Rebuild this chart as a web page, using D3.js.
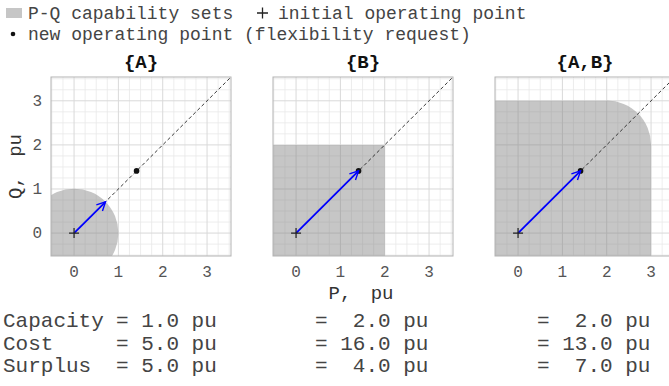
<!DOCTYPE html>
<html>
<head>
<meta charset="utf-8">
<script src="https://cdn.jsdelivr.net/npm/d3@7"></script>
<style>
  body { margin: 0; background: #fff; }
  text { font-family: "Liberation Mono", "DejaVu Sans Mono", monospace; white-space: pre; }
</style>
</head>
<body>
<div id="chart"></div>
<script>
// panel titles and numbers printed under each panel
var panels   = ["{A}", "{B}", "{A,B}"];
var capacity = [1.0, 2.0, 2.0];
var cost     = [5.0, 16.0, 13.0];
var surplus  = [5.0, 4.0, 7.0];

// capability set = square of half-side s (Minkowski) plus disc of radius r
var squareHalf = [0, 2, 2];
var discRadius = [1, 0, 1];

// operating points
var initialPoint = [0, 0];
var newPoint     = [1.41, 1.41];
var arrowEnd     = [0.71, 1.41, 1.41];   // how far each set can follow the request

var ticks = [0, 1, 2, 3];
var rowLabels = ["Capacity", "Cost", "Surplus"];

var W = 669, H = 386;
var panelW = 180, panelH = 179, panelTop = 77;
var panelLeft = [51, 273, 495];

var svg = d3.select("#chart").append("svg")
  .attr("width", W).attr("height", H);

var x = d3.scaleLinear().domain([-0.52, 3.54]).range([0, panelW]);
var y = d3.scaleLinear().domain([-0.52, 3.54]).range([panelH, 0]);

var defs = svg.append("defs");
defs.append("clipPath").attr("id", "clip")
  .append("rect").attr("width", panelW).attr("height", panelH);
defs.append("marker")
  .attr("id", "arrowhead")
  .attr("viewBox", "0 0 10 10")
  .attr("refX", 9).attr("refY", 5)
  .attr("markerWidth", 6).attr("markerHeight", 6)
  .attr("markerUnits", "strokeWidth")
  .attr("orient", "auto")
  .append("path")
    .attr("d", "M1,1 L9,5 L1,9")
    .attr("fill", "none")
    .attr("stroke", "#0000ff")
    .attr("stroke-width", 1.3);

// rounded rectangle [-(s+r), s+r]^2 with corner radius r
function capabilityPath(s, r) {
  var p = d3.path();
  var e = s + r;
  if (s === 0) {
    p.arc(x(0), y(0), x(r) - x(0), 0, 2 * Math.PI);
    return p.toString();
  }
  var k = x(r) - x(0);
  p.moveTo(x(-e), y(s));
  p.arc(x(-s), y(s), k, Math.PI, 1.5 * Math.PI);
  p.lineTo(x(s), y(e));
  p.arc(x(s), y(s), k, 1.5 * Math.PI, 2 * Math.PI);
  p.lineTo(x(e), y(-s));
  p.arc(x(s), y(-s), k, 0, 0.5 * Math.PI);
  p.lineTo(x(-s), y(-e));
  p.arc(x(-s), y(-s), k, 0.5 * Math.PI, Math.PI);
  p.closePath();
  return p.toString();
}

var minor = d3.range(-0.5, 3.76, 0.25).filter(function(v){ return Math.abs(v - Math.round(v)) > 0.01; });

panels.forEach(function(title, i) {
  var g = svg.append("g")
    .attr("transform", "translate(" + panelLeft[i] + "," + panelTop + ")");

  g.append("rect")
    .attr("width", panelW).attr("height", panelH)
    .attr("fill", "#fff");

  var inner = g.append("g").attr("clip-path", "url(#clip)");

  // grid
  inner.selectAll(".vminor").data(minor).enter().append("line")
    .attr("x1", function(d){ return x(d); }).attr("x2", function(d){ return x(d); })
    .attr("y1", 0).attr("y2", panelH)
    .attr("stroke", "#e8e8e8").attr("stroke-width", 0.8);
  inner.selectAll(".hminor").data(minor).enter().append("line")
    .attr("y1", function(d){ return y(d); }).attr("y2", function(d){ return y(d); })
    .attr("x1", 0).attr("x2", panelW)
    .attr("stroke", "#e8e8e8").attr("stroke-width", 0.8);
  inner.selectAll(".vmajor").data(ticks).enter().append("line")
    .attr("x1", function(d){ return x(d); }).attr("x2", function(d){ return x(d); })
    .attr("y1", 0).attr("y2", panelH)
    .attr("stroke", "#d9d9d9").attr("stroke-width", 1);
  inner.selectAll(".hmajor").data(ticks).enter().append("line")
    .attr("y1", function(d){ return y(d); }).attr("y2", function(d){ return y(d); })
    .attr("x1", 0).attr("x2", panelW)
    .attr("stroke", "#d9d9d9").attr("stroke-width", 1);

  // capability set
  inner.append("path")
    .attr("d", capabilityPath(squareHalf[i], discRadius[i]))
    .attr("fill", "#808080")
    .attr("fill-opacity", 0.45);

  // request direction
  inner.append("line")
    .attr("x1", x(initialPoint[0])).attr("y1", y(initialPoint[1]))
    .attr("x2", x(4)).attr("y2", y(4))
    .attr("stroke", "#222").attr("stroke-width", 0.9)
    .attr("stroke-dasharray", "3.5,2.5");

  // new operating point
  inner.append("circle")
    .attr("cx", x(newPoint[0])).attr("cy", y(newPoint[1]))
    .attr("r", 2.8).attr("fill", "#111");

  // arrow
  inner.append("line")
    .attr("x1", x(initialPoint[0])).attr("y1", y(initialPoint[1]))
    .attr("x2", x(arrowEnd[i])).attr("y2", y(arrowEnd[i]))
    .attr("stroke", "#0000ff").attr("stroke-width", 1.8)
    .attr("marker-end", "url(#arrowhead)");

  // initial operating point
  inner.append("path")
    .attr("transform", "translate(" + x(initialPoint[0]) + "," + y(initialPoint[1]) + ")")
    .attr("d", "M-5,0H5M0,-5V5")
    .attr("stroke", "#222").attr("stroke-width", 1.2);

  // frame
  g.append("rect")
    .attr("width", panelW).attr("height", panelH)
    .attr("fill", "none").attr("stroke", "#b3b3b3").attr("stroke-width", 1);

  // title
  g.append("text")
    .attr("x", panelW / 2).attr("y", -9)
    .attr("text-anchor", "middle")
    .style("font-size", "19px").style("font-weight", "bold")
    .attr("fill", "#111")
    .text(title);

  // x tick labels
  g.selectAll(".xt").data(ticks).enter().append("text")
    .attr("x", function(d){ return x(d); })
    .attr("y", panelH + 21)
    .attr("text-anchor", "middle")
    .style("font-size", "16px")
    .attr("fill", "#555")
    .text(function(d){ return d; });

  if (i === 0) {
    g.selectAll(".yt").data(ticks).enter().append("text")
      .attr("x", -9)
      .attr("y", function(d){ return y(d) + 5; })
      .attr("text-anchor", "end")
      .style("font-size", "16px")
      .attr("fill", "#555")
      .text(function(d){ return d; });
  }
});

// axis titles
svg.append("text")
  .attr("x", 361).attr("y", 299)
  .attr("text-anchor", "middle")
  .style("font-size", "19px").style("word-spacing", "8px")
  .attr("fill", "#333")
  .text("P, pu");
svg.append("text")
  .attr("transform", "translate(21," + (panelTop + panelH / 2) + ") rotate(-90)")
  .attr("text-anchor", "middle")
  .style("font-size", "19px").style("word-spacing", "8px")
  .attr("fill", "#333")
  .text("Q, pu");

// legend
svg.append("rect")
  .attr("x", 6).attr("y", 8).attr("width", 16).attr("height", 10)
  .attr("fill", "#808080").attr("fill-opacity", 0.45);
svg.append("text").attr("x", 28).attr("y", 19)
  .style("font-size", "18px").attr("fill", "#444")
  .text("P-Q capability sets");
svg.append("path")
  .attr("d", "M257,13H268M262.5,7.5V18.5")
  .attr("stroke", "#222").attr("stroke-width", 1.3);
svg.append("text").attr("x", 278).attr("y", 19)
  .style("font-size", "18px").attr("fill", "#444")
  .text("initial operating point");
svg.append("circle").attr("cx", 13).attr("cy", 34).attr("r", 2.3).attr("fill", "#111");
svg.append("text").attr("x", 28).attr("y", 40)
  .style("font-size", "18px").attr("fill", "#444")
  .text("new operating point (flexibility request)");

// summary rows
var rows = [capacity, cost, surplus];
var rowY = [327, 349.5, 372];
var colX = [116, 315, 537];
var fmt = d3.format(".1f");

rowLabels.forEach(function(lab, r) {
  svg.append("text").attr("x", 3).attr("y", rowY[r])
    .style("font-size", "21px").attr("fill", "#444")
    .text(lab);
});
panels.forEach(function(p, i) {
  var vals = rows.map(function(v){ return fmt(v[i]); });
  var w = d3.max(vals, function(s){ return s.length; });
  vals.forEach(function(s, r) {
    svg.append("text").attr("x", colX[i]).attr("y", rowY[r])
      .style("font-size", "21px").attr("fill", "#444")
      .text("= " + s.padStart(w, " ") + " pu");
  });
});
</script>
</body>
</html>
